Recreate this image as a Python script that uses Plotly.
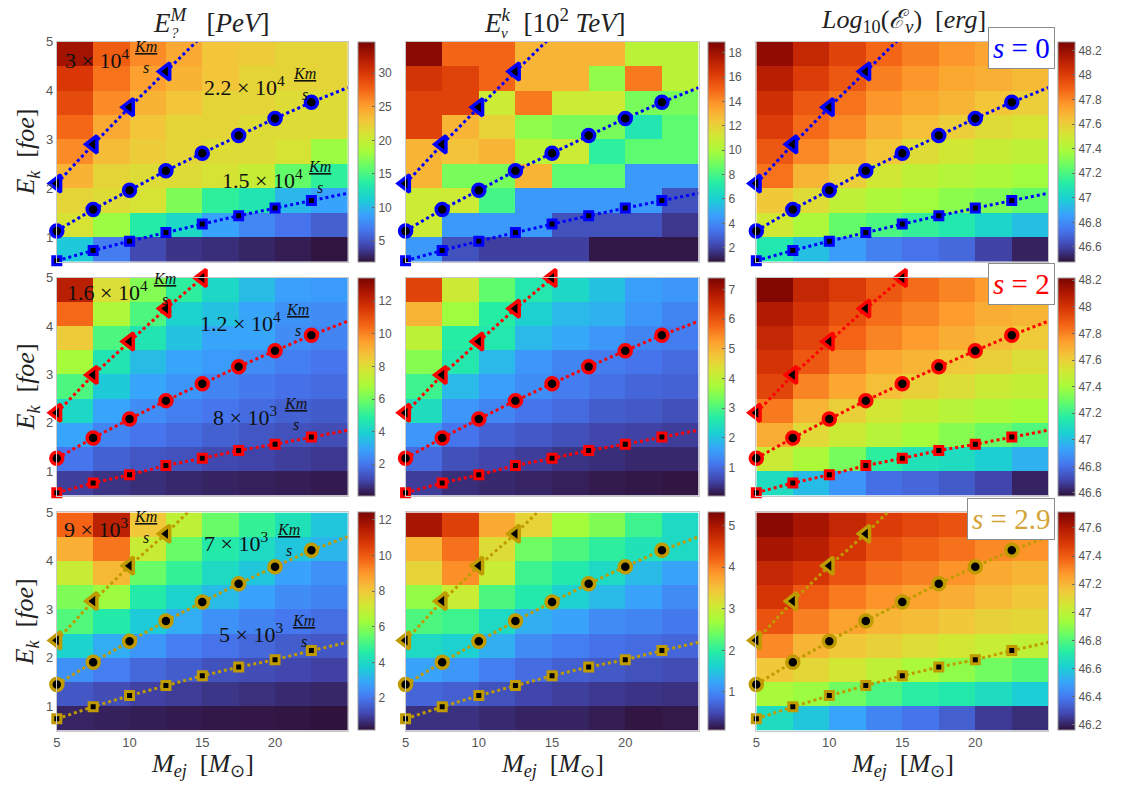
import plotly.graph_objects as go

W, H = 1126, 787

# ---------------- data ----------------
M_EDGES = [5, 7.5, 10, 12.5, 15, 17.5, 20, 22.5, 25]
EK_EDGES = [0.5, 1.0, 1.5, 2.0, 2.5, 3.0, 3.5, 4.0, 4.5, 5.0]
M_MARK = [5, 7.5, 10, 12.5, 15, 17.5, 20, 22.5]

# heat-map values, rows from Ek=0.5-1 (bottom) to Ek=4.5-5 (top)
EP_S0 = [
    [11, 7, 4.5, 3.5, 3.2, 2.8, 2.4, 2.0],
    [21, 18, 13.5, 12, 9, 7.5, 6.5, 5.5],
    [22, 21.5, 21, 17, 14, 13, 10, 9],
    [24, 22, 21.5, 21.5, 21, 20, 16, 14],
    [26, 23.5, 22.5, 22, 21.5, 21.5, 21, 18],
    [27.5, 24.5, 23, 22, 22, 21.5, 21.5, 21.5],
    [29, 26, 24, 23, 22, 22, 21.5, 21.5],
    [30, 27, 25, 24, 23, 22, 22, 22],
    [33, 28, 26, 24.5, 23, 22.5, 22, 22],
]
ENU_S0 = [
    [4.5, 2.5, 2, 2, 2, 1, 1, 1],
    [11, 4.5, 4.5, 4.5, 2.5, 2.5, 2.5, 1.8],
    [11, 11, 8, 4.5, 4.5, 4.5, 4.5, 2.5],
    [13, 9, 9, 13, 8.5, 8.5, 4.5, 4.5],
    [13, 12.5, 13, 10.5, 11, 7.5, 8.5, 8.5],
    [16, 13, 12, 9.5, 9, 9, 7, 8.5],
    [16, 16, 11, 14.5, 11, 11, 9, 9],
    [16.5, 16, 15, 13, 13, 9.5, 14.5, 10.5],
    [18.5, 15, 15, 13, 13, 13, 10.5, 10.5],
]
LOGE_S0 = [
    [47.1, 46.95, 46.85, 46.77, 46.73, 46.7, 46.6, 46.52],
    [47.5, 47.4, 47.25, 47.2, 47.15, 47.1, 47.02, 46.95],
    [47.62, 47.55, 47.45, 47.4, 47.37, 47.33, 47.3, 47.25],
    [47.85, 47.68, 47.6, 47.5, 47.45, 47.42, 47.4, 47.37],
    [47.92, 47.8, 47.7, 47.63, 47.55, 47.5, 47.47, 47.45],
    [48.0, 47.87, 47.8, 47.7, 47.65, 47.6, 47.55, 47.52],
    [48.05, 47.92, 47.85, 47.77, 47.72, 47.68, 47.63, 47.6],
    [48.12, 48.0, 47.92, 47.82, 47.77, 47.72, 47.7, 47.67],
    [48.22, 48.08, 47.98, 47.88, 47.82, 47.77, 47.73, 47.7],
]
EP_S2 = [
    [0.9, 0.7, 0.6, 0.5, 0.4, 0.35, 0.3, 0.25],
    [2.0, 1.6, 1.4, 1.3, 1.1, 1.0, 0.9, 0.8],
    [3.0, 2.3, 2.0, 1.8, 1.6, 1.4, 1.3, 1.2],
    [4.2, 3.0, 2.5, 2.2, 2.0, 1.8, 1.6, 1.5],
    [5.5, 3.8, 3.0, 2.7, 2.3, 2.1, 1.9, 1.8],
    [6.8, 4.6, 3.5, 3.0, 2.8, 2.5, 2.2, 2.0],
    [8.5, 5.5, 4.6, 3.6, 3.0, 3.0, 2.5, 2.3],
    [10.5, 7.0, 5.5, 4.0, 3.6, 3.0, 2.6, 2.5],
    [12.3, 8.0, 6.3, 5.0, 4.2, 3.5, 2.9, 2.8],
]
ENU_S2 = [
    [0.5, 0.35, 0.3, 0.25, 0.2, 0.15, 0.12, 0.1],
    [1.0, 0.7, 0.6, 0.5, 0.4, 0.35, 0.3, 0.3],
    [1.5, 1.1, 0.9, 0.8, 0.7, 0.6, 0.55, 0.5],
    [2.4, 1.5, 1.3, 1.1, 1.0, 0.85, 0.8, 0.7],
    [2.9, 1.9, 1.6, 1.4, 1.2, 1.05, 0.95, 0.9],
    [3.5, 2.6, 1.9, 1.5, 1.3, 1.2, 1.1, 1.0],
    [4.0, 2.7, 2.6, 1.9, 1.7, 1.5, 1.3, 1.2],
    [5.0, 3.7, 2.7, 2.2, 1.9, 1.8, 1.5, 1.3],
    [6.2, 4.2, 3.2, 2.6, 2.3, 2.0, 1.6, 1.5],
]
LOGE_S2 = [
    [47.1, 47.0, 46.9, 46.8, 46.78, 46.75, 46.7, 46.62],
    [47.5, 47.42, 47.32, 47.18, 47.12, 47.1, 47.05, 46.97],
    [47.7, 47.57, 47.5, 47.45, 47.4, 47.35, 47.3, 47.25],
    [47.82, 47.68, 47.6, 47.52, 47.48, 47.45, 47.42, 47.4],
    [47.95, 47.8, 47.72, 47.65, 47.6, 47.55, 47.5, 47.48],
    [48.0, 47.9, 47.8, 47.72, 47.68, 47.63, 47.6, 47.55],
    [48.05, 47.95, 47.87, 47.8, 47.75, 47.7, 47.66, 47.62],
    [48.1, 48.0, 47.92, 47.85, 47.8, 47.75, 47.7, 47.68],
    [48.2, 48.05, 47.98, 47.9, 47.85, 47.8, 47.75, 47.72],
]
EP_S29 = [
    [0.5, 0.45, 0.4, 0.35, 0.3, 0.28, 0.25, 0.2],
    [1.4, 1.2, 1.0, 0.9, 0.8, 0.7, 0.6, 0.55],
    [2.5, 2.1, 1.7, 1.5, 1.3, 1.2, 1.1, 1.0],
    [3.8, 3.0, 2.6, 2.1, 1.9, 1.7, 1.5, 1.4],
    [5.2, 4.5, 3.6, 3.0, 2.5, 2.2, 2.0, 1.8],
    [5.8, 6.2, 4.5, 3.8, 3.3, 2.8, 2.4, 2.2],
    [7.0, 8.3, 5.5, 4.8, 4.0, 3.5, 2.8, 2.5],
    [8.5, 9.5, 7.0, 5.5, 4.5, 4.0, 3.5, 3.2],
    [9.8, 11.3, 8.0, 6.8, 5.5, 4.8, 4.2, 3.5],
]
ENU_S29 = [
    [0.3, 0.3, 0.25, 0.2, 0.2, 0.15, 0.1, 0.12],
    [0.7, 0.65, 0.55, 0.45, 0.4, 0.35, 0.32, 0.3],
    [1.2, 1.1, 0.9, 0.75, 0.65, 0.6, 0.55, 0.5],
    [1.7, 1.6, 1.3, 1.0, 0.9, 0.8, 0.75, 0.7],
    [2.2, 2.1, 1.7, 1.3, 1.2, 1.0, 0.95, 0.85],
    [2.6, 3.0, 2.2, 1.9, 1.6, 1.4, 1.2, 1.0],
    [3.3, 3.9, 3.0, 2.1, 1.9, 1.7, 1.4, 1.2],
    [3.6, 4.1, 3.2, 2.4, 2.2, 2.0, 1.8, 1.7],
    [5.0, 4.5, 3.7, 3.3, 2.7, 2.5, 2.1, 1.7],
]
LOGE_S29 = [
    [46.65, 46.58, 46.5, 46.42, 46.38, 46.33, 46.25, 46.22],
    [46.95, 46.92, 46.85, 46.78, 46.72, 46.7, 46.65, 46.6],
    [47.15, 47.1, 47.05, 47.0, 46.95, 46.9, 46.85, 46.8],
    [47.3, 47.2, 47.15, 47.12, 47.08, 47.05, 47.02, 47.0],
    [47.42, 47.32, 47.25, 47.2, 47.18, 47.15, 47.12, 47.1],
    [47.5, 47.4, 47.33, 47.28, 47.25, 47.22, 47.18, 47.15],
    [47.55, 47.5, 47.42, 47.35, 47.32, 47.28, 47.23, 47.2],
    [47.62, 47.58, 47.5, 47.42, 47.38, 47.35, 47.3, 47.28],
    [47.68, 47.62, 47.55, 47.48, 47.45, 47.42, 47.4, 47.38],
]

# colour limits and colour-bar ticks (min, max, dtick)
CLIM = [
    [(1.9, 34.7, 5), (0.85, 18.9, 2), (46.48, 48.27, 0.2)],
    [(0.08, 13.45, 2), (0.06, 7.4, 1), (46.58, 48.22, 0.2)],
    [(0.19, 12.4, 2), (0.07, 5.32, 1), (46.16, 47.71, 0.2)],
]
CB_TICK0 = [[5, 2, 46.6], [2, 1, 46.6], [2, 1, 46.2]]

# constant-velocity lines: marker values and line end point
TRI = [[2.10, 2.90, 3.66, 4.39], [2.21, 2.99, 3.68, 4.36, 4.99], [2.36, 3.17, 3.90, 4.56]]
TRI_END = [(15, 5.12), None, (15, 5.3)]
CIRC = [[1.13, 1.57, 1.96, 2.36, 2.72, 3.08, 3.43, 3.76],
        [1.27, 1.69, 2.08, 2.46, 2.81, 3.16, 3.49, 3.81],
        [1.45, 1.91, 2.34, 2.76, 3.15, 3.53, 3.88, 4.22]]
CIRC_END = [(25, 4.06), (25, 4.10), (25, 4.50)]
SQ = [[0.52, 0.73, 0.92, 1.10, 1.27, 1.44, 1.60, 1.75],
      [0.56, 0.76, 0.93, 1.12, 1.27, 1.43, 1.56, 1.71],
      [0.74, 0.99, 1.22, 1.43, 1.63, 1.81, 1.96, 2.15]]
SQ_END = [(25, 1.90), (25, 1.85), (25, 2.32)]

# velocity labels per row: (mantissa, exponent)
VEL_LABELS = [
    [("3", "4"), ("2.2", "4"), ("1.5", "4")],
    [("1.6", "4"), ("1.2", "4"), ("8", "3")],
    [("9", "3"), ("7", "3"), ("5", "3")],
]
S_LABELS = ["0", "2", "2.9"]

Z = [[EP_S0, ENU_S0, LOGE_S0], [EP_S2, ENU_S2, LOGE_S2], [EP_S29, ENU_S29, LOGE_S29]]

# ---------------- styles / layout ----------------
LINE_COL = ["#0000ff", "#ff0000", "#bf9b00"]
S_COL = ["#0000ff", "#ff0000", "#d4a437"]
COL_X = [(53, 345), (403, 697), (755, 1048)]
CB_X = [355, 707, 1058]
ROW_Y = [(35, 257), (273, 493), (510, 730)]
SERIF = "Liberation Serif"
SANS = "Liberation Sans"
TICKCOL = "#555555"

# label placement in data coords: (text_x, text_y, frac_x)
VEL_POS = [
    [(5.45, 4.64, 10.15), (15.0, 4.09, 21.1), (16.2, 2.2, 22.1)],
    [(5.55, 4.72, 11.5), (14.7, 4.08, 20.6), (15.6, 2.15, 20.5)],
    [(5.35, 4.67, 10.15), (15.0, 4.39, 20.0), (16.0, 2.52, 21.0)],
]

fig = go.Figure()
annotations = []
layout_axes = {}

def px(xp):
    return xp / W

def py(yp):
    return 1 - yp / H

n = 0
for r in range(3):
    for c in range(3):
        n += 1
        xa = "x" if n == 1 else f"x{n}"
        ya = "y" if n == 1 else f"y{n}"
        x0, x1 = COL_X[c]
        y0, y1 = ROW_Y[r]
        zmin, zmax, dt = CLIM[r][c]
        fig.add_trace(go.Heatmap(
            x=M_EDGES, y=EK_EDGES, z=Z[r][c],
            colorscale="Turbo", zmin=zmin, zmax=zmax,
            xaxis=xa, yaxis=ya, hoverinfo="skip",
            colorbar=dict(
                x=px(CB_X[c]), xanchor="left", xpad=0,
                y=py((y0 + y1) / 2), yanchor="middle", ypad=0,
                len=(y1 - y0) / H, lenmode="fraction", thickness=17,
                outlinewidth=1, outlinecolor="#9a9a9a",
                ticks="inside", ticklen=3, tickcolor="#666",
                tick0=CB_TICK0[r][c], dtick=dt,
                tickfont=dict(family=SANS, size=12, color=TICKCOL),
            ),
        ))
        col = LINE_COL[r]
        for vals, end in ((TRI[r], TRI_END[r]), (CIRC[r], CIRC_END[r]), (SQ[r], SQ_END[r])):
            lx = M_MARK[:len(vals)]
            ly = list(vals)
            if end is not None:
                lx = lx + [end[0]]
                ly = ly + [end[1]]
            fig.add_trace(go.Scatter(x=lx, y=ly, mode="lines", xaxis=xa, yaxis=ya,
                                     line=dict(color=col, width=3, dash="dot"),
                                     hoverinfo="skip", showlegend=False))
        for vals, sym, size, lw in ((TRI[r], "triangle-left", 15, 3.5),
                                     (CIRC[r], "circle", 12, 3.5),
                                     (SQ[r], "square", 8, 3)):
            fig.add_trace(go.Scatter(x=M_MARK[:len(vals)], y=vals, mode="markers",
                                     xaxis=xa, yaxis=ya, cliponaxis=False,
                                     marker=dict(symbol=sym, size=size, color="black",
                                                 line=dict(color=col, width=lw)),
                                     hoverinfo="skip", showlegend=False))
        axkey_x = "xaxis" if n == 1 else f"xaxis{n}"
        axkey_y = "yaxis" if n == 1 else f"yaxis{n}"
        layout_axes[axkey_x] = dict(
            domain=[px(x0), px(x1)], anchor=ya, range=[5, 25],
            tickvals=[5, 10, 15, 20], showticklabels=(r == 2),
            ticks="", showgrid=False, zeroline=False,
            showline=True, linecolor="#c8c8c8", linewidth=1, mirror=True,
            tickfont=dict(family=SANS, size=13, color=TICKCOL),
        )
        layout_axes[axkey_y] = dict(
            domain=[py(y1), py(y0)], anchor=xa, range=[0.5, 5],
            tickvals=[1, 2, 3, 4, 5], showticklabels=(c == 0),
            ticks="", showgrid=False, zeroline=False,
            showline=True, linecolor="#c8c8c8", linewidth=1, mirror=True,
            tickfont=dict(family=SANS, size=13, color=TICKCOL),
        )
        if c == 0:
            for (mant, ex), (tx, ty, fx) in zip(VEL_LABELS[r], VEL_POS[r]):
                annotations.append(dict(
                    x=tx, y=ty, xref=xa, yref=ya, xanchor="left", yanchor="middle",
                    text=f"{mant} \u00d7 10<sup>{ex}</sup>", showarrow=False,
                    font=dict(family=SERIF, size=22, color="#111")))
                annotations.append(dict(
                    x=fx, y=ty + 0.04, xref=xa, yref=ya, xanchor="left", yanchor="middle",
                    align="center",
                    text="<span style='text-decoration:underline'><i>Km</i></span><br><i>s</i>",
                    showarrow=False, font=dict(family=SERIF, size=16, color="#111")))
            annotations.append(dict(
                x=px(23), y=py((y0 + y1) / 2), xref="paper", yref="paper",
                xanchor="center", yanchor="middle",
                text="<i>E</i><sub><i>k</i></sub>  [<i>foe</i>]", textangle=-90,
                showarrow=False, font=dict(family=SERIF, size=26, color="#222")))
        if c == 2:
            annotations.append(dict(
                x=px(1055), y=py(y0 - 15), xref="paper", yref="paper",
                xanchor="right", yanchor="top",
                text=f"<i>s</i> = {S_LABELS[r]}", showarrow=False,
                bgcolor="white", bordercolor="#8c8c8c", borderwidth=1, borderpad=4,
                font=dict(family=SERIF, size=29, color=S_COL[r])))
        if r == 2:
            annotations.append(dict(
                x=px((x0 + x1) / 2), y=py(765), xref="paper", yref="paper",
                xanchor="center", yanchor="middle",
                text="<i>M</i><sub><i>ej</i></sub>  [<i>M</i><sub>\u2299</sub>]",
                showarrow=False, font=dict(family=SERIF, size=26, color="#222")))

# column titles
TITLE_Y = 14
annotations.append(dict(x=px(148), y=py(TITLE_Y), xref="paper", yref="paper",
                        xanchor="left", yanchor="middle",
                        text="<i>E</i><sup><i>M</i></sup>   [<i>PeV</i>]", showarrow=False,
                        font=dict(family=SERIF, size=27, color="#222")))
annotations.append(dict(x=px(166), y=py(TITLE_Y + 12), xref="paper", yref="paper",
                        xanchor="left", yanchor="middle",
                        text="<i>?</i>", showarrow=False,
                        font=dict(family=SERIF, size=15, color="#222")))
annotations.append(dict(x=px(480), y=py(TITLE_Y), xref="paper", yref="paper",
                        xanchor="left", yanchor="middle",
                        text="<i>E</i><sup><i>k</i></sup>  [10<sup>2</sup> <i>TeV</i>]", showarrow=False,
                        font=dict(family=SERIF, size=27, color="#222")))
annotations.append(dict(x=px(497), y=py(TITLE_Y + 12), xref="paper", yref="paper",
                        xanchor="left", yanchor="middle",
                        text="<i>\u03bd</i>", showarrow=False,
                        font=dict(family=SERIF, size=15, color="#222")))
annotations.append(dict(x=px(903), y=py(TITLE_Y), xref="paper", yref="paper",
                        xanchor="center", yanchor="middle",
                        text="<i>Log</i><sub>10</sub>(<i>\u2130</i><sub><i>\u03bd</i></sub>)  [<i>erg</i>]",
                        showarrow=False, font=dict(family=SERIF, size=26, color="#222")))

fig.update_layout(
    width=W, height=H, margin=dict(l=0, r=0, t=0, b=0),
    paper_bgcolor="white", plot_bgcolor="white", showlegend=False,
    annotations=annotations, **layout_axes,
)

fig.write_html("out.html", config={"displayModeBar": False},
               post_script="document.body.style.margin='0px';")
